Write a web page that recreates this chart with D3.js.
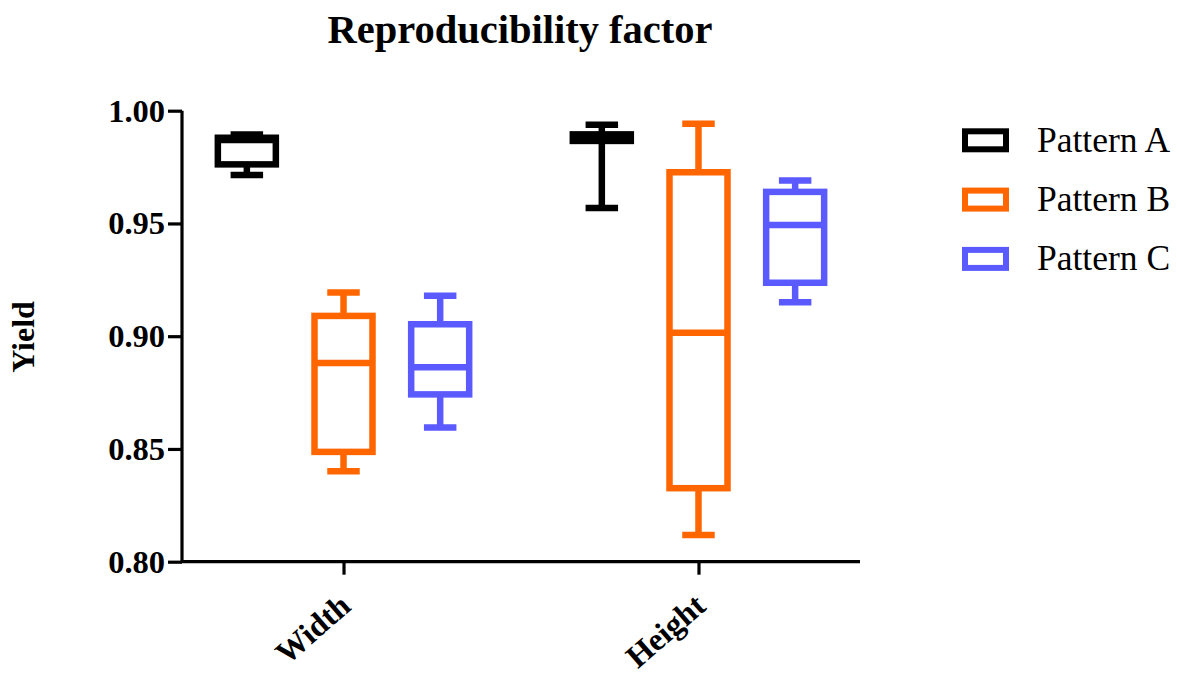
<!DOCTYPE html>
<html>
<head>
<meta charset="utf-8">
<script src="https://cdn.jsdelivr.net/npm/d3@7"></script>
<style>
  html, body { margin: 0; padding: 0; background: #fff; }
  svg { display: block; }
  text { font-family: "Liberation Serif", "Times New Roman", serif; }
</style>
</head>
<body>
<svg id="chart" width="1177" height="679"></svg>
<script>
// Categories and series
const categories = ["Width", "Height"];
const patterns = ["Pattern A", "Pattern B", "Pattern C"];
const colors = ["#000000", "#ff6600", "#5a5aff"];

// Five-number summaries per pattern, one entry per category: [min, q1, median, q3, max]
const patternA = [[0.9715, 0.9762, 0.9870, 0.9880, 0.9895], [0.9569, 0.9866, 0.9878, 0.9895, 0.9938]];
const patternB = [[0.8401, 0.8487, 0.8881, 0.9090, 0.9194], [0.8118, 0.8326, 0.9015, 0.9727, 0.9942]];
const patternC = [[0.8595, 0.8742, 0.8862, 0.9053, 0.9179], [0.9151, 0.9237, 0.9493, 0.9640, 0.9690]];
const series = [patternA, patternB, patternC];

const yTicks = [0.80, 0.85, 0.90, 0.95, 1.00];

const svg = d3.select("#chart");

const x = d3.scalePoint().domain(categories).range([182, 860]).padding(0.455);
const sub = d3.scaleBand().domain(patterns).range([-145, 145]).padding(0);
const y = d3.scaleLinear().domain([0.8, 1.0]).range([561.7, 110.7]);

const boxW = sub.bandwidth() * 0.6;
const capW = boxW * 0.56;
const sw = 6.5;

// Title
svg.append("text")
  .attr("x", 520).attr("y", 43)
  .attr("text-anchor", "middle")
  .style("font-size", "40.5px").style("font-weight", "bold")
  .text("Reproducibility factor");

// Y axis
const yAxis = svg.append("g")
  .attr("transform", "translate(182,0)")
  .call(d3.axisLeft(y).tickValues(yTicks).tickFormat(d3.format(".2f")).tickSize(14).tickPadding(3));
yAxis.select(".domain").attr("stroke-width", 3.2).attr("d", `M0,${y(1.0)}V${y(0.8)}`);
yAxis.selectAll(".tick line").attr("stroke-width", 3.2);
yAxis.selectAll(".tick text")
  .style("font-size", "32.5px").style("font-weight", "bold")
  .style("font-family", "'Liberation Serif', serif").attr("fill", "#000");

// X axis
const xAxis = svg.append("g")
  .attr("transform", `translate(0,${y(0.8)})`)
  .call(d3.axisBottom(x).tickSize(13).tickFormat(""));
xAxis.select(".domain").attr("stroke-width", 3.2).attr("d", `M182,0H860`);
xAxis.selectAll(".tick line").attr("stroke-width", 3.2);

svg.append("g").selectAll("text")
  .data(categories)
  .join("text")
  .attr("transform", d => `translate(${x(d) + 9},${y(0.8) + 47}) rotate(-41)`)
  .attr("text-anchor", "end")
  .style("font-size", "32px").style("font-weight", "bold")
  .text(d => d);

// Y label
svg.append("text")
  .attr("transform", "translate(34,337) rotate(-90)")
  .attr("text-anchor", "middle")
  .style("font-size", "32px").style("font-weight", "bold")
  .text("Yield");

// Box plots
const boxes = [];
series.forEach((s, pi) => {
  s.forEach((st, ci) => {
    boxes.push({ pattern: patterns[pi], color: colors[pi], cat: categories[ci],
      min: st[0], q1: st[1], med: st[2], q3: st[3], max: st[4] });
  });
});

const g = svg.append("g").attr("fill", "none").attr("stroke-width", sw).attr("stroke-linecap", "butt");
const bg = g.selectAll("g.box").data(boxes).join("g")
  .attr("class", "box")
  .attr("stroke", d => d.color)
  .attr("transform", d => `translate(${x(d.cat) + sub(d.pattern) + sub.bandwidth() / 2},0)`);

// whiskers
bg.append("line").attr("x1", 0).attr("x2", 0).attr("y1", d => y(d.max)).attr("y2", d => y(d.q3));
bg.append("line").attr("x1", 0).attr("x2", 0).attr("y1", d => y(d.q1)).attr("y2", d => y(d.min));
// caps
bg.append("line").attr("x1", -capW / 2).attr("x2", capW / 2).attr("y1", d => y(d.max)).attr("y2", d => y(d.max));
bg.append("line").attr("x1", -capW / 2).attr("x2", capW / 2).attr("y1", d => y(d.min)).attr("y2", d => y(d.min));
// box
bg.append("rect")
  .attr("x", -boxW / 2).attr("width", boxW)
  .attr("y", d => y(d.q3)).attr("height", d => y(d.q1) - y(d.q3))
  .attr("fill", "#fff");
// median
bg.append("line").attr("x1", -boxW / 2).attr("x2", boxW / 2).attr("y1", d => y(d.med)).attr("y2", d => y(d.med));

// Legend
const legend = svg.append("g").selectAll("g").data(patterns).join("g")
  .attr("transform", (d, i) => `translate(962,${140.3 + i * 59.3})`);
legend.append("rect")
  .attr("x", 3).attr("y", -9).attr("width", 41).attr("height", 18)
  .attr("fill", "#fff")
  .attr("stroke", (d, i) => colors[i]).attr("stroke-width", 6);
legend.append("text")
  .attr("x", 75).attr("y", 11.5)
  .style("font-size", "35.5px")
  .text(d => d);
</script>
</body>
</html>
